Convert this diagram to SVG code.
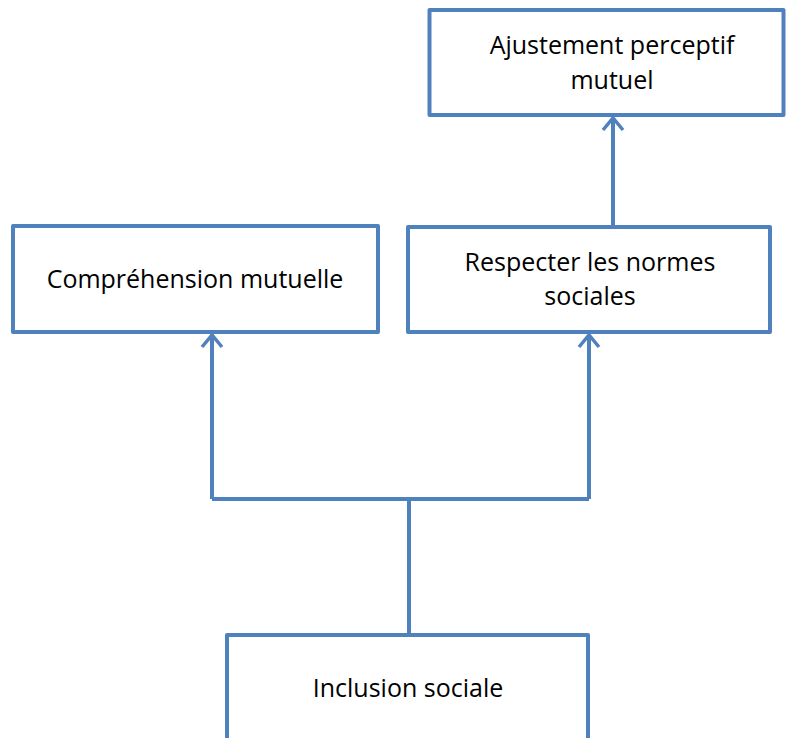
<svg xmlns="http://www.w3.org/2000/svg" width="786" height="738" viewBox="0 0 786 738">
<style>
.box{fill:#fff;stroke:#4f81bd;stroke-width:4;stroke-linejoin:round}
.lbl{font-family:"Open Sans","Liberation Sans",sans-serif;font-size:25px;fill:#000;text-anchor:middle}
.con{fill:none;stroke:#4f81bd;stroke-width:4}
</style>
<defs>
<marker id="arr" viewBox="0 0 24 24" refX="18" refY="12" markerWidth="24" markerHeight="24" markerUnits="userSpaceOnUse" orient="auto">
<path d="M6,2 L18,12 L6,22" fill="none" stroke="#4f81bd" stroke-width="3.5"/>
</marker>
</defs>
<g id="connectors">
<path class="con" d="M409,635 V499"/>
<path class="con" d="M212,499 H589"/>
<path class="con" d="M212,499 V335" marker-end="url(#arr)"/>
<path class="con" d="M589,499 V335" marker-end="url(#arr)"/>
<path class="con" d="M613,227 V118" marker-end="url(#arr)"/>
</g>
<g id="n_ajustement">
<rect class="box" x="429.5" y="10" width="354" height="105"/>
<text class="lbl" x="612" y="54">Ajustement perceptif</text>
<text class="lbl" x="612" y="89">mutuel</text>
</g>
<g id="n_comprehension">
<rect class="box" x="13" y="226" width="365" height="106"/>
<text class="lbl" x="195" y="288">Compréhension mutuelle</text>
</g>
<g id="n_respecter">
<rect class="box" x="408" y="227" width="362" height="105"/>
<text class="lbl" x="590" y="271">Respecter les normes</text>
<text class="lbl" x="590" y="305">sociales</text>
</g>
<g id="n_inclusion">
<rect class="box" x="227" y="635" width="361" height="130"/>
<text class="lbl" x="408" y="697">Inclusion sociale</text>
</g>
</svg>
